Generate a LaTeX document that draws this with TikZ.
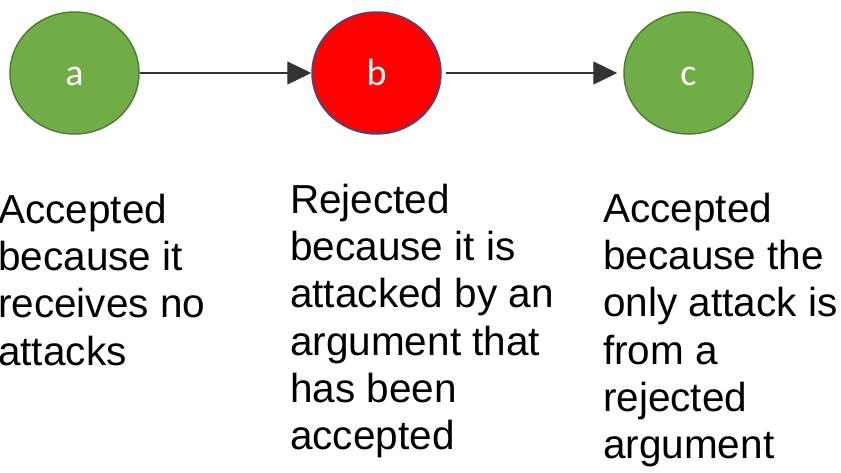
\documentclass[tikz,border=0pt]{standalone}
\usepackage{fontspec}
\setmainfont{Liberation Sans}
\newfontfamily\circfont{Carlito}
\usetikzlibrary{shapes.geometric,arrows.meta}
\definecolor{accgreen}{HTML}{70AD47}
\definecolor{accgreenline}{HTML}{507E32}
\definecolor{rejline}{HTML}{2F528F}
\tikzset{
  arg/.style={ellipse, minimum width=129pt, minimum height=122pt, inner sep=0pt,
    line width=1.5pt, text=white, text depth=0pt, text height=24pt,
    font=\circfont\fontsize{38pt}{44pt}\selectfont},
  accepted/.style={arg, fill=accgreen, draw=accgreenline},
  rejected/.style={arg, fill=red, draw=rejline},
  attack/.style={line width=1.2pt, draw=black!80, -{Triangle[length=24pt,width=23pt]}},
  expl/.style={anchor=north west, inner sep=0pt, align=left,
    font=\fontsize{40.5pt}{47.2pt}\selectfont}
}
\begin{document}
\begin{tikzpicture}[x=1pt,y=-1pt]
\useasboundingbox (0,0) rectangle (841,472);
\node[accepted] (a) at (74.5,73) {a};
\node[rejected] (b) at (376.5,73) {b};
\node[accepted] (c) at (688.5,73) {c};
\draw[attack] (a.east) -- (b.west);
\draw[attack, shorten <=4pt, shorten >=6pt] (b.east) -- (c.west);
\node[expl] (ta) at (-2,194) {Accepted\\because it\\receives no\\attacks};
\node[expl] (tb) at (290,184) {Rejected\\because it is\\attacked by an\\argument that\\has been\\accepted};
\node[expl] (tc) at (603,193) {Accepted\\because the\\only attack is\\from a\\rejected\\argument};
\end{tikzpicture}
\end{document}
